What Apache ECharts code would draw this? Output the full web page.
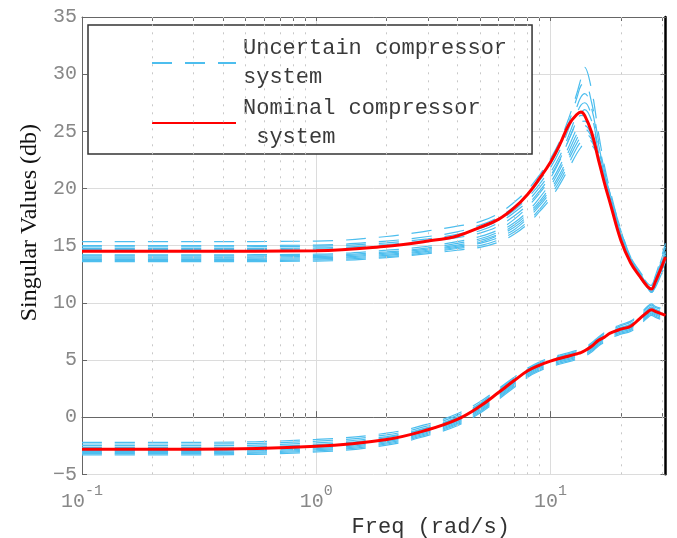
<!DOCTYPE html>
<html><head><meta charset="utf-8">
<script src="https://cdn.jsdelivr.net/npm/echarts@6/dist/echarts.min.js"></script>
<style>html,body{margin:0;padding:0;background:#fff}#c{width:677px;height:538px}</style>
</head><body><div id="c"></div>
<script>
// frequency grid (rad/s)
const freq = [0.1,0.3,1,2,3,4,5,6,7,8,9,10,11,12,13,13.5,14,15,16,17,18,20,22,24,26,27,28,31];

// nominal system singular values (dB)
const nominalUpper = [14.5,14.5,14.55,14.95,15.4,15.85,16.6,17.3,18.3,19.5,20.9,22.3,23.9,25.6,26.5,26.7,26.4,24.9,22.6,20.5,18.7,15.45,13.5,12.35,11.4,11.2,11.8,14.0];
const nominalLower = [-2.8,-2.8,-2.55,-1.95,-1.1,-0.2,0.95,2.15,3.2,4.05,4.55,4.9,5.15,5.35,5.55,5.65,5.8,6.2,6.7,7.0,7.35,7.7,7.95,8.6,9.2,9.4,9.25,8.9];

// uncertain systems, upper singular value (dB)
const uncUpper1  = [15.35,15.35,15.4,15.8,16.3,16.7,17.1,17.8,18.8,19.9,21.2,22.6,24.2,26.2,28.4,29.6,30.6,28.6,25.0,22.0,19.8,16.3,14.0,12.8,11.8,11.6,12.3,15.2];
const uncUpper2  = [15.0,15.0,15.05,15.4,15.8,16.2,16.8,17.5,18.4,19.5,20.7,22.1,23.8,25.8,28.0,29.0,29.2,27.5,24.3,21.6,19.5,16.1,13.9,12.7,11.7,11.5,12.2,14.9];
const uncUpper3  = [14.9,14.9,14.95,15.25,15.6,16.0,16.5,17.2,18.1,19.2,20.4,21.8,23.4,25.3,27.2,28.0,28.3,27.0,24.0,21.4,19.3,16.0,13.8,12.6,11.6,11.4,12.1,14.7];
const uncUpper4  = [14.75,14.75,14.8,15.1,15.45,15.85,16.3,17.0,17.9,18.9,20.1,21.4,22.9,24.7,26.6,27.3,27.5,26.3,23.6,21.2,19.1,15.9,13.7,12.5,11.5,11.3,12.0,14.5];
const uncUpper5  = [14.65,14.65,14.7,15.0,15.35,15.7,16.1,16.7,17.6,18.6,19.8,21.1,22.6,24.3,26.0,26.6,26.9,25.9,23.3,21.0,19.0,15.8,13.6,12.4,11.4,11.2,11.9,14.4];
const uncUpper6  = [14.2,14.2,14.25,14.6,14.95,15.35,15.8,16.4,17.3,18.4,19.6,20.9,22.5,24.3,25.9,26.4,26.3,25.0,22.7,20.6,18.8,15.7,13.5,12.3,11.3,11.1,11.8,14.2];
const uncUpper7  = [14.1,14.1,14.15,14.45,14.8,15.2,15.6,16.2,17.0,18.0,19.2,20.5,22.0,23.7,25.3,25.8,25.9,24.9,22.8,20.7,18.9,15.7,13.5,12.3,11.3,11.1,11.7,14.0];
const uncUpper8  = [14.0,14.0,14.05,14.35,14.7,15.05,15.45,16.0,16.8,17.8,18.9,20.2,21.7,23.3,24.8,25.3,25.5,24.7,22.8,20.8,18.9,15.8,13.6,12.4,11.3,11.0,11.6,13.8];
const uncUpper9  = [13.9,13.9,13.95,14.25,14.6,14.95,15.3,15.9,16.6,17.6,18.7,19.9,21.3,22.9,24.4,24.9,25.2,24.5,22.7,20.8,19.0,15.9,13.7,12.5,11.4,11.0,11.5,13.7];
const uncUpper10 = [13.8,13.8,13.85,14.15,14.5,14.85,15.2,15.7,16.4,17.4,18.5,19.7,21.0,22.6,24.0,24.5,24.8,24.3,22.8,21.0,19.1,16.0,13.8,12.5,11.3,10.9,11.4,13.6];
const uncUpper11 = [13.7,13.7,13.75,14.05,14.4,14.75,15.0,15.5,16.2,17.1,18.2,19.4,20.7,22.2,23.6,24.1,24.4,24.1,22.9,21.2,19.3,16.2,13.9,12.6,11.4,10.9,11.4,13.5];
const uncUpper12 = [13.6,13.6,13.65,13.95,14.3,14.6,14.85,15.3,16.0,16.9,18.0,19.1,20.4,21.8,23.1,23.6,24.0,23.8,22.8,21.3,19.5,16.4,14.0,12.7,11.4,10.9,11.3,13.4];

// uncertain systems, lower singular value (dB)
const uncLower1  = [-2.2,-2.2,-1.95,-1.4,-0.6,0.3,1.35,2.5,3.5,4.3,4.85,5.2,5.45,5.65,5.85,5.95,6.1,6.5,7.0,7.4,7.7,8.1,8.4,9.0,9.7,9.9,9.7,9.4];
const uncLower2  = [-2.35,-2.35,-2.1,-1.55,-0.75,0.15,1.2,2.4,3.4,4.2,4.75,5.1,5.35,5.55,5.75,5.85,6.0,6.4,6.9,7.3,7.6,8.0,8.3,8.9,9.6,9.8,9.6,9.3];
const uncLower3  = [-2.5,-2.5,-2.25,-1.7,-0.9,0.0,1.1,2.3,3.3,4.15,4.65,5.0,5.25,5.45,5.65,5.75,5.9,6.3,6.8,7.15,7.5,7.85,8.15,8.75,9.45,9.65,9.45,9.1];
const uncLower4  = [-2.65,-2.65,-2.4,-1.8,-0.95,-0.05,1.05,2.25,3.3,4.15,4.65,5.0,5.25,5.45,5.65,5.75,5.9,6.3,6.8,7.1,7.45,7.8,8.1,8.65,9.35,9.55,9.4,9.05];
const uncLower5  = [-2.8,-2.8,-2.55,-1.95,-1.15,-0.25,0.85,2.05,3.1,3.95,4.5,4.85,5.1,5.3,5.5,5.6,5.75,6.15,6.65,6.95,7.3,7.65,7.9,8.5,9.2,9.4,9.25,8.9];
const uncLower6  = [-2.9,-2.9,-2.65,-2.05,-1.2,-0.35,0.75,1.95,3.0,3.9,4.45,4.8,5.05,5.25,5.45,5.55,5.7,6.1,6.6,6.9,7.25,7.6,7.85,8.4,9.1,9.3,9.15,8.8];
const uncLower7  = [-3.0,-3.0,-2.75,-2.15,-1.3,-0.45,0.65,1.85,2.9,3.8,4.35,4.7,4.95,5.15,5.35,5.45,5.6,6.0,6.5,6.85,7.2,7.55,7.8,8.35,9.0,9.2,9.05,8.7];
const uncLower8  = [-3.1,-3.1,-2.85,-2.25,-1.4,-0.55,0.55,1.75,2.8,3.7,4.25,4.6,4.85,5.05,5.25,5.35,5.5,5.9,6.4,6.75,7.1,7.45,7.7,8.25,8.9,9.1,8.95,8.6];
const uncLower9  = [-3.2,-3.2,-2.95,-2.35,-1.5,-0.65,0.45,1.65,2.7,3.6,4.15,4.5,4.75,4.95,5.15,5.25,5.4,5.8,6.3,6.65,7.0,7.35,7.6,8.15,8.8,9.0,8.85,8.5];
const uncLower10 = [-3.3,-3.3,-3.05,-2.45,-1.6,-0.75,0.35,1.55,2.6,3.5,4.05,4.4,4.65,4.85,5.05,5.15,5.3,5.7,6.2,6.55,6.9,7.25,7.5,8.05,8.7,8.9,8.75,8.4];

// axis ticks
const xMajorTicks = [0.1, 1, 10];
const xMinorTicks = [0.2,0.3,0.4,0.5,0.6,0.7,0.8,0.9,2,3,4,5,6,7,8,9,20,30];
const xRange = [0.1, 31];
const yRange = [-5, 35];
const yStep = 5;

const UNC = 'Uncertain compressor system';
const NOM = 'Nominal compressor system';
const legendText = {};
legendText[UNC] = 'Uncertain compressor\nsystem';
legendText[NOM] = 'Nominal compressor\n system';

const uncertainUpper = [uncUpper1,uncUpper2,uncUpper3,uncUpper4,uncUpper5,uncUpper6,uncUpper7,uncUpper8,uncUpper9,uncUpper10,uncUpper11,uncUpper12];
const uncertainLower = [uncLower1,uncLower2,uncLower3,uncLower4,uncLower5,uncLower6,uncLower7,uncLower8,uncLower9,uncLower10];

const BLUE = '#4DBEEE';
const RED = '#FF0000';
const MONO = '"Liberation Mono", "DejaVu Sans Mono", monospace';

function mk(vals, name, color, width, type, z) {
  return {
    type: 'line', name: name,
    data: freq.map((f, i) => [f, vals[i]]),
    showSymbol: false, symbol: 'none', smooth: 0.4,
    lineStyle: { color: color, width: width, type: type },
    itemStyle: { color: color },
    z: z, silent: true
  };
}

const series = [];
series.push({
  type: 'line', data: [], z: 1, silent: true,
  markLine: {
    silent: true, symbol: 'none', label: { show: false },
    lineStyle: { color: '#c8c8c8', width: 1, type: [2, 6] },
    data: xMinorTicks.map(v => ({ xAxis: v }))
  }
});
uncertainUpper.forEach(a => series.push(mk(a, UNC, BLUE, 1.2, [20, 13], 3)));
uncertainLower.forEach(a => series.push(mk(a, UNC, BLUE, 1.2, [20, 13], 3)));
series.push(mk(nominalUpper, NOM, RED, 3, 'solid', 5));
series.push(mk(nominalLower, NOM, RED, 3, 'solid', 5));

const chart = echarts.init(document.getElementById('c'), null, { renderer: 'canvas' });
chart.setOption({
  animation: false,
  backgroundColor: '#fff',
  grid: { left: 82, right: 11.5, top: 17, bottom: 63.7, containLabel: false, outerBoundsMode: 'none' },
  legend: {
    left: 88, top: 25, orient: 'vertical',
    padding: [9, 25, 2, 63],
    itemWidth: 84, itemHeight: 14, itemGap: 2,
    backgroundColor: '#fff', borderColor: '#333', borderWidth: 1.5,
    itemStyle: { opacity: 0 },
    textStyle: { fontFamily: MONO, fontSize: 22, color: '#3a3a3a', lineHeight: 29, padding: [0, 0, 0, 2] },
    data: [UNC, NOM],
    formatter: n => legendText[n],
    selectedMode: false
  },
  xAxis: [
    {
      type: 'log', logBase: 10, min: xRange[0], max: xRange[1],
      position: 'bottom',
      name: 'Freq (rad/s)', nameLocation: 'middle', nameGap: 30,
      nameTextStyle: { fontFamily: MONO, fontSize: 22, color: '#333', padding: [0, 0, 0, 114] },
      axisLine: { show: true, lineStyle: { color: '#666', width: 1 } },
      axisTick: { show: true, inside: true, length: 6, customValues: xMajorTicks, lineStyle: { color: '#666' } },
      axisLabel: {
        show: true, margin: 9, customValues: xMajorTicks, color: '#888',
        formatter: v => { const e = Math.round(Math.log10(v)); return '{b|10}{s|' + (e < 0 ? '-' + (-e) : e) + '}'; },
        rich: {
          b: { fontFamily: MONO, fontSize: 20, color: '#888', lineHeight: 28, verticalAlign: 'bottom' },
          s: { fontFamily: MONO, fontSize: 15, color: '#888', lineHeight: 28, verticalAlign: 'top' }
        }
      },
      splitLine: { show: true, lineStyle: { color: '#dcdcdc', width: 1 } }
    },
    {
      type: 'log', logBase: 10, min: xRange[0], max: xRange[1], position: 'bottom',
      axisLine: { show: false }, axisLabel: { show: false }, splitLine: { show: false },
      axisTick: { show: true, inside: true, length: 4, customValues: xMinorTicks, lineStyle: { color: '#666' } }
    },
    {
      type: 'log', logBase: 10, min: xRange[0], max: xRange[1], position: 'top',
      axisLine: { show: true, lineStyle: { color: '#666', width: 1 } }, axisLabel: { show: false }, splitLine: { show: false },
      axisTick: { show: true, inside: true, length: 4, customValues: xMajorTicks.concat(xMinorTicks), lineStyle: { color: '#666' } }
    }
  ],
  yAxis: [
    {
      type: 'value', min: yRange[0], max: yRange[1], interval: yStep, position: 'left',
      name: 'Singular Values (db)', nameLocation: 'middle', nameGap: 40, nameRotate: 90,
      nameTextStyle: { fontFamily: '"Liberation Serif", "DejaVu Serif", serif', fontSize: 24, color: '#111', padding: [0, 0, 0, 46] },
      axisLine: { show: true, lineStyle: { color: '#666', width: 1 } },
      axisTick: { show: true, inside: true, length: 5, lineStyle: { color: '#666' } },
      axisLabel: { margin: 5, fontFamily: MONO, fontSize: 20, color: '#888', formatter: v => (v < 0 ? '\u2212' + (-v) : '' + v) },
      splitLine: { show: true, lineStyle: { color: '#dcdcdc', width: 1 } }
    },
    {
      type: 'value', min: yRange[0], max: yRange[1], interval: yStep, position: 'right',
      axisLine: { show: true, lineStyle: { color: '#000', width: 2.5 } },
      axisTick: { show: true, inside: true, length: 5, lineStyle: { color: '#666', width: 1 } },
      axisLabel: { show: false }, splitLine: { show: false }
    }
  ],
  series: series
});
</script>
</body></html>
